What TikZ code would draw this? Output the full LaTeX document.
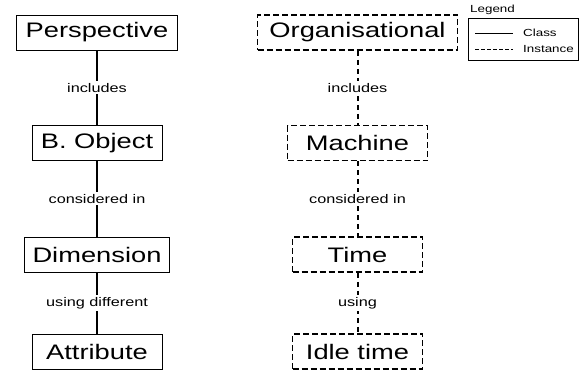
\documentclass[tikz,border=0pt]{standalone}
\usepackage{fontspec}
\setmainfont[FakeStretch=1.3]{Liberation Sans}
\usetikzlibrary{positioning}

\tikzset{
  classbox/.style={draw, line width=0.8pt, minimum height=35pt, minimum width=130pt,
    inner xsep=8pt, font=\fontsize{21}{25}\selectfont},
  instbox/.style={classbox, line width=1.5pt, dash pattern=on 6pt off 3pt},
  classlink/.style={line width=2pt},
  instlink/.style={line width=2pt, dash pattern=on 5pt off 4pt},
  rel/.style={font=\fontsize{12.5}{15}\selectfont, fill=white, inner sep=2pt},
  legtext/.style={font=\fontsize{10.3}{12}\selectfont, inner sep=0pt},
}

\begin{document}
\begin{tikzpicture}[x=1pt, y=-1pt]
    \useasboundingbox (0,0) rectangle (585,375);

    % Class column
    \node[classbox, minimum width=161pt] (persp) at (97,32.5) {Perspective};
    \node[classbox] (bobj) at (97,143) {B. Object};
    \node[classbox, minimum width=142pt] (dim) at (97,254.5) {Dimension};
    \node[classbox] (attr) at (97,351.5) {Attribute};

    \draw[classlink] (persp) -- (bobj) node[midway, rel] {includes};
    \draw[classlink] (bobj) -- (dim) node[midway, rel] {considered in};
    \draw[classlink] (dim) -- (attr) node[midway, rel] {using different};

    % Instance column
    \node[instbox, minimum width=200pt] (org) at (357.5,32.5) {Organisational};
    \node[instbox, minimum width=140pt] (mach) at (357.5,143) {Machine};
    \node[instbox] (time) at (357.5,254.5) {Time};
    \node[instbox] (idle) at (357.5,351.5) {Idle time};

    \draw[instlink] (org) -- (mach) node[midway, rel] {includes};
    \draw[instlink] (mach) -- (time) node[midway, rel] {considered in};
    \draw[instlink] (time) -- (idle) node[midway, rel] {using};

    % Legend
    \node[legtext, anchor=base west] (legtitle) at (470,12) {Legend};
    \node[draw, line width=0.9pt, minimum width=110pt, minimum height=42pt] (legbox) at (523,39) {};
    \coordinate (clsA) at (475,33);
    \coordinate (clsB) at (513,33);
    \coordinate (insA) at (475,49.5);
    \coordinate (insB) at (513,49.5);
    \draw[line width=1pt] (clsA) -- (clsB);
    \draw[line width=1pt, dash pattern=on 3.5pt off 2.5pt] (insA) -- (insB);
    \node[legtext, anchor=west] (clslbl) at (523,33) {Class};
    \node[legtext, anchor=west] (inslbl) at (523,49.5) {Instance};
\end{tikzpicture}
\end{document}
